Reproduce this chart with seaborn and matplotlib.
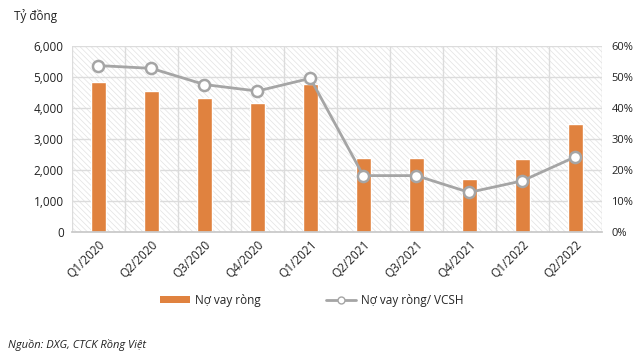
import numpy as np
import pandas as pd
import matplotlib
matplotlib.use("Agg")
import matplotlib.pyplot as plt
import seaborn as sns
from matplotlib.patches import Rectangle
from matplotlib.lines import Line2D
from matplotlib.patches import Patch

# du lieu doc tu bieu do
quarters = ["Q1/2020", "Q2/2020", "Q3/2020", "Q4/2020", "Q1/2021",
            "Q2/2021", "Q3/2021", "Q4/2021", "Q1/2022", "Q2/2022"]
net_debt = [4850, 4560, 4330, 4150, 4790, 2400, 2400, 1725, 2380, 3490]
debt_equity = [53.7, 52.8, 47.6, 45.5, 49.6, 18.3, 18.3, 12.9, 16.6, 24.3]

sns.set_theme(style="white")
plt.rcParams["font.family"] = ["Open Sans", "DejaVu Sans"]
plt.rcParams["hatch.linewidth"] = 0.5
plt.rcParams["hatch.color"] = "#e2e2e2"

df = pd.DataFrame({"quarter": quarters, "debt": net_debt, "ratio": debt_equity})

fig = plt.figure(figsize=(6.4, 3.59), dpi=100)
ax = fig.add_axes([0.1125, 0.3524, 0.8275, 0.5195])

# nen soc cheo
bg = Rectangle((0, 0), 1, 1, transform=ax.transAxes, facecolor="white",
               hatch="\\\\\\\\\\\\", edgecolor="#e2e2e2", linewidth=0, zorder=0)
ax.add_patch(bg)

sns.barplot(data=df, x="quarter", y="debt", color="#E0823F", width=0.28,
            saturation=1, ax=ax, zorder=3)

ax.set_ylim(0, 6000)
ax.set_xlim(-0.5, len(quarters) - 0.5)
ax.set_yticks(range(0, 6001, 1000))
ax.set_yticklabels([f"{v:,}" for v in range(0, 6001, 1000)])
ax.set_xticks(np.arange(-0.5, len(quarters), 1.0), minor=True)
ax.grid(False)
for v in range(1000, 6001, 1000):
    ax.axhline(v, color="#dcdcdc", lw=1, zorder=1)
for x in np.arange(-0.5, len(quarters), 1.0):
    ax.axvline(x, color="#dcdcdc", lw=1, zorder=1)

ax.set_xlabel("")
ax.set_ylabel("")
for s in ["top", "right", "left"]:
    ax.spines[s].set_visible(False)
ax.spines["bottom"].set_color("#c8c8c8")
ax.spines["bottom"].set_zorder(4)
ax.tick_params(axis="x", which="major", length=0, pad=4)
ax.tick_params(axis="x", which="minor", length=4, color="#c8c8c8", width=1)
ax.tick_params(axis="y", length=0, pad=6)
plt.setp(ax.get_xticklabels(), rotation=45, ha="right", rotation_mode="anchor",
         fontsize=8.5, color="#222222")
plt.setp(ax.get_yticklabels(), fontsize=8.5, color="#222222")

ax2 = ax.twinx()
sns.lineplot(x=np.arange(len(quarters)), y=df["ratio"], ax=ax2, color="#A5A5A5",
             lw=2, marker="o", markersize=8, markerfacecolor="white",
             markeredgecolor="#A5A5A5", markeredgewidth=1.8, zorder=5)
ax2.set_ylim(0, 60)
ax2.set_yticks(range(0, 61, 10))
ax2.set_yticklabels([f"{v}%" for v in range(0, 61, 10)])
ax2.set_ylabel("")
for s in ax2.spines.values():
    s.set_visible(False)
ax2.tick_params(axis="y", length=0, pad=7)
plt.setp(ax2.get_yticklabels(), fontsize=8, color="#222222")

handles = [Patch(facecolor="#E0823F", edgecolor="none"),
           Line2D([0], [0], color="#A5A5A5", lw=2, marker="o", markersize=5,
                  markerfacecolor="white", markeredgecolor="#A5A5A5")]
fig.legend(handles, ["Nợ vay ròng", "Nợ vay ròng/ VCSH"], loc="center",
           bbox_to_anchor=(0.487, 0.164), ncol=2, frameon=False, fontsize=8.5,
           handlelength=2.6, handleheight=0.5, columnspacing=5.5, handletextpad=0.4)

fig.text(0.022, 0.955, "Tỷ đồng", fontsize=8.5, color="#222222", va="center")
fig.text(0.012, 0.04, "Nguồn: DXG, CTCK Rồng Việt", fontsize=8, style="italic",
         color="#222222", va="center")

fig.savefig("out.png", dpi=100)
